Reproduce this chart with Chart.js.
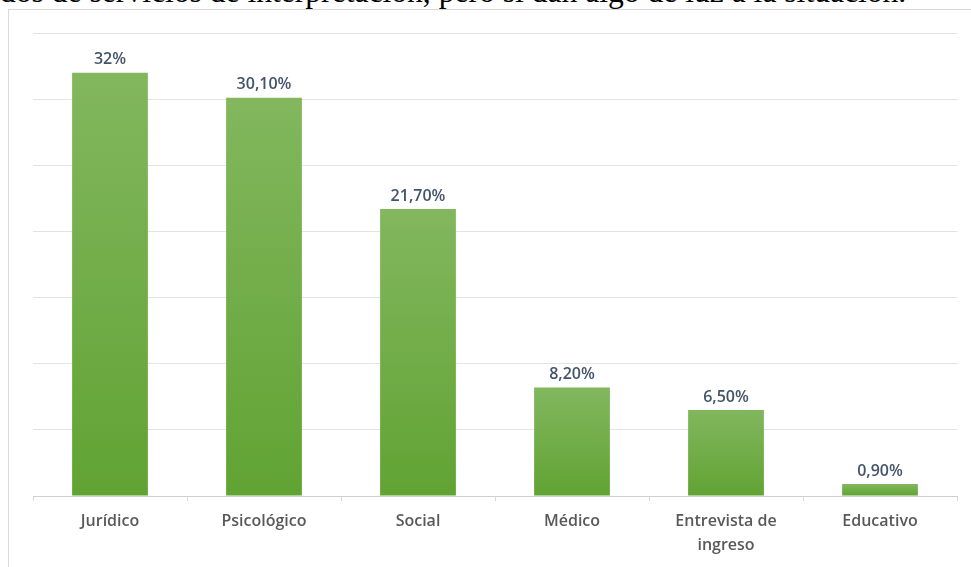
<!DOCTYPE html>
<html>
<head>
<meta charset="utf-8">
<script src="https://cdn.jsdelivr.net/npm/chart.js@4"></script>
<style>
  html, body { margin: 0; padding: 0; background: #fff; }
  body { width: 971px; height: 567px; position: relative; overflow: hidden; }
  .texto {
    position: absolute; left: 0; top: -24px; white-space: nowrap; line-height: 31px;
    font-family: "Liberation Serif", "DejaVu Serif", serif; font-size: 31.6px; color: #000;
  }
  .marco {
    position: absolute; left: 8px; top: 9px; width: 980px; height: 580px;
    border: 1px solid #d9d9d9; box-sizing: border-box;
  }
  #grafico { position: absolute; left: 0; top: 0; }
</style>
</head>
<body>
<div class="texto">dos de servicios de interpretación, pero sí dan algo de luz a la situación.</div>
<div class="marco"></div>
<canvas id="grafico" width="971" height="567"></canvas>
<script>
const categorias = [['Jurídico'], ['Psicológico'], ['Social'], ['Médico'], ['Entrevista de', 'ingreso'], ['Educativo']];
const porcentajes = [32, 30.1, 21.7, 8.2, 6.5, 0.9];
const etiquetas = ['32%', '30,10%', '21,70%', '8,20%', '6,50%', '0,90%'];

const fuente = '"Open Sans", Lato, sans-serif';

// degradado vertical por barra, claro arriba y más oscuro en la base
function rellenoBarra(ctx) {
    const chart = ctx.chart;
    const area = chart.chartArea;
    if (!area || ctx.raw === undefined) return '#70ad47';
    const y = chart.scales.y;
    const top = y.getPixelForValue(ctx.raw);
    const base = y.getPixelForValue(0);
    const g = chart.ctx.createLinearGradient(0, top, 0, base);
    g.addColorStop(0, '#82b75e');
    g.addColorStop(1, '#61a333');
    return g;
}

const etiquetasValor = {
    id: 'etiquetasValor',
    afterDatasetsDraw(chart) {
        const ctx = chart.ctx;
        const meta = chart.getDatasetMeta(0);
        ctx.save();
        ctx.font = '600 16px ' + fuente;
        ctx.fillStyle = '#44546a';
        ctx.textAlign = 'center';
        ctx.textBaseline = 'bottom';
        meta.data.forEach((bar, i) => {
            ctx.fillText(etiquetas[i], bar.x, bar.y - 5);
        });
        ctx.restore();
    },
};

new Chart(document.getElementById('grafico'), {
    type: 'bar',
    data: {
        labels: categorias,
        datasets: [{
            data: porcentajes,
            backgroundColor: rellenoBarra,
            borderWidth: 0,
            barPercentage: 0.82,
            categoryPercentage: 0.6,
        }],
    },
    options: {
        responsive: false,
        animation: false,
        layout: { padding: { left: 33, right: 14, top: 33, bottom: 0 } },
        plugins: { legend: { display: false }, tooltip: { enabled: false } },
        scales: {
            x: {
                offset: true,
                grid: { offset: true, drawOnChartArea: false, tickLength: 5, color: '#d9d9d9' },
                border: { color: '#d0d0d0' },
                ticks: {
                    color: '#595959',
                    font: { size: 16, weight: '600', family: fuente, lineHeight: 1.5 },
                    padding: 8,
                    maxRotation: 0,
                },
                afterFit(scale) { scale.height = 71; },
            },
            y: {
                min: 0,
                max: 35,
                ticks: { stepSize: 5, display: false },
                grid: { color: '#e3e3e3', drawTicks: false },
                border: { display: false },
                afterFit(scale) { scale.width = 0; },
            },
        },
    },
    plugins: [etiquetasValor],
});
</script>
</body>
</html>
